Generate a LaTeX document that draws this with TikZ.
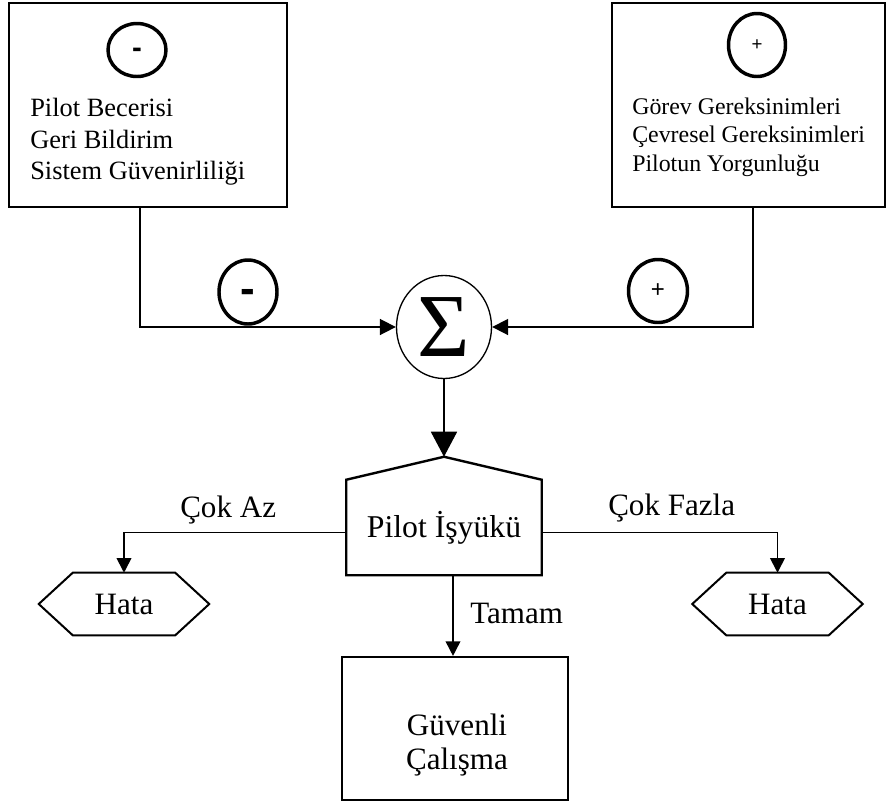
\documentclass[tikz,border=0pt]{standalone}
\usepackage{fontspec}
\setmainfont{Liberation Serif}
\newfontfamily\signfont{Liberation Sans}
\usetikzlibrary{arrows.meta,calc,shapes.geometric}
\tikzset{
  frame/.style={
    draw=black,
    line width=1.6pt,
    rectangle,
    inner sep=0pt
  },
  sign-ring/.style={
    draw=black,
    ellipse,
    line width=2.6pt,
    inner sep=0pt,
    font=\signfont
  },
  sum-ring/.style={
    draw=black,
    ellipse,
    line width=1pt,
    inner sep=0pt,
    minimum width=71.25pt,
    minimum height=77.25pt
  },
  link/.style={line width=1.3pt},
  feed/.style={link, -{Triangle[width=12pt,length=12pt]}},
  drop/.style={link, -{Triangle[width=19.5pt,length=18.75pt]}},
  branch/.style={link, -{Triangle[width=11pt,length=11pt]}},
  list-left/.style={align=left, inner sep=0pt,
    font=\fontsize{19.8pt}{23.6pt}\selectfont},
  list-right/.style={align=left, inner sep=0pt,
    font=\fontsize{17.9pt}{21.4pt}\selectfont},
  big-text/.style={inner sep=0pt, font=\fontsize{23.3pt}{25.5pt}\selectfont}
}
\newcommand{\hexaframe}[1]{%
  \draw[line width=1.5pt] (#1.north west) -- (#1.north east)
    -- ($(#1.east)+(34,0)$) -- (#1.south east) -- (#1.south west)
    -- ($(#1.west)+(-34,0)$) -- cycle;
}

\begin{document}
\begin{tikzpicture}[x=0.75pt, y=-0.75pt]
  \useasboundingbox (0,0) rectangle (886,804);
  % input boxes
  \node[frame, minimum width=208.5pt, minimum height=153pt] (lbox) at (148,105) {};
  \node[frame, minimum width=204.75pt, minimum height=153pt] (rbox) at (748.5,105) {};
  \node[sign-ring, minimum width=43.5pt, minimum height=39.75pt,
    text height=11.9pt, text depth=0pt, font=\signfont\bfseries\fontsize{22pt}{22pt}\selectfont]
    (lsign) at (137,50) {-};
  \node[sign-ring, minimum width=42.75pt, minimum height=47.25pt,
    font=\signfont\fontsize{14pt}{14pt}\selectfont]
    (rsign) at (757,45) {+};
  \node[list-left, anchor=north west] (llist) at (30,98)
    {Pilot Becerisi\\Geri Bildirim\\Sistem Güvenirliliği};
  \node[list-right, anchor=north west] (rlist) at (632,97.5)
    {Görev Gereksinimleri\\Çevresel Gereksinimleri\\Pilotun Yorgunluğu};
  % summing junction
  \node[sum-ring] (sum) at (444,327)
    {\fontsize{67.5pt}{70pt}\selectfont Σ};
  \node[sign-ring, minimum width=43.5pt, minimum height=48pt,
    text height=17.8pt, text depth=0pt, font=\signfont\bfseries\fontsize{33pt}{33pt}\selectfont]
    (minus) at (248,292) {-};
  \node[sign-ring, minimum width=44.25pt, minimum height=47.25pt,
    font=\signfont\fontsize{18pt}{18pt}\selectfont]
    (plus) at (658,291) {+};
  \draw[feed] ($(lbox.south west)+(132,0)$) |- (sum.west);
  \draw[feed] ($(rbox.south west)+(142,0)$) |- (sum.east);
  % workload
  \node[big-text, minimum width=146.25pt, minimum height=71.25pt,
    font=\fontsize{23.8pt}{26pt}\selectfont] (work) at (444,527.5) {Pilot İşyükü};
  \coordinate (roof) at ($(work.north)+(0,-23)$);
  \draw[line width=1.8pt] (work.south west) -- (work.north west) -- (roof)
    -- (work.north east) -- (work.south east) -- cycle;
  \draw[drop] (sum.south) -- (roof);
  % outcomes
  \node[big-text, minimum width=76.5pt, minimum height=46.5pt] (hataL) at (124,604) {Hata};
  \node[big-text, minimum width=76.5pt, minimum height=46.5pt] (hataR) at (777.5,604) {Hata};
  \hexaframe{hataL}
  \hexaframe{hataR}
  \node[frame, minimum width=169.5pt, minimum height=107.25pt] (safe) at (455,728.5) {};
  \node[big-text, align=center] (safetext) at (457,745) {Güvenli\\Çalışma};
  \draw[branch] ($(work.west)+(0,5)$) -| (hataL.north);
  \draw[branch] ($(work.east)+(0,5)$) -| (hataR.north);
  \draw[branch] ($(work.south)+(9,0)$) -- ($(safe.north)+(-2,0)$);
  \node[big-text, anchor=base west] (few) at (180,517) {Çok Az};
  \node[big-text, anchor=base west] (many) at (608,515) {Çok Fazla};
  \node[big-text, anchor=base west] (okay) at (470,623) {Tamam};
\end{tikzpicture}
\end{document}
